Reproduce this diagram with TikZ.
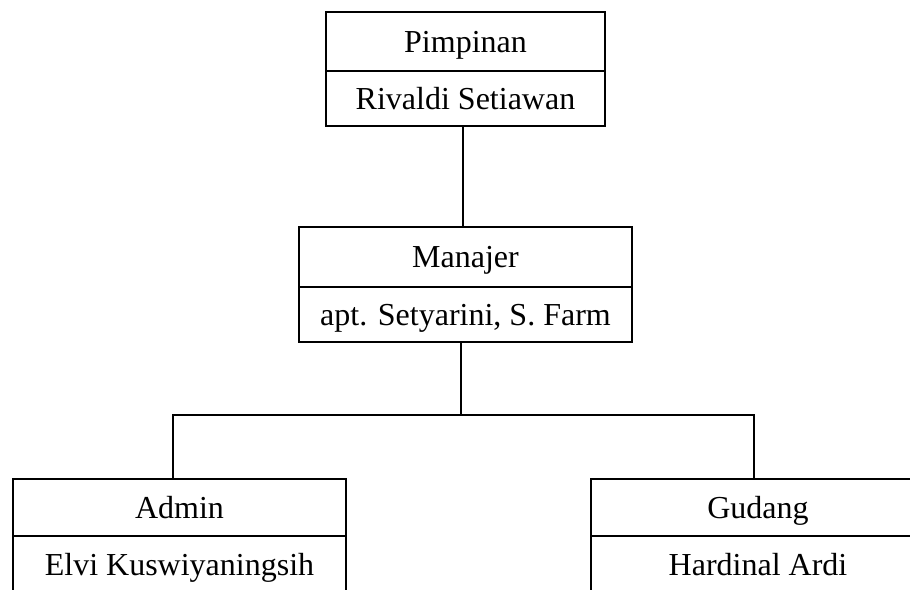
\documentclass[tikz,border=0pt]{standalone}
\usepackage{fontspec}
\setmainfont{Liberation Serif}
\usepackage{tikz}

\begin{document}
\begin{tikzpicture}[x=1pt,y=-1pt,line width=2pt,
  every node/.style={font=\fontsize{32}{38}\selectfont,text height=21pt,text depth=0pt}]
\useasboundingbox (0,0) rectangle (910,589);
\clip (0,0) rectangle (910,589);
% top
\path (465.5,41.5) node (pimpinan) [shape=rectangle,minimum width=279pt,minimum height=59pt,inner sep=0pt,draw] {Pimpinan};
\path (465.5,98.5) node (pimpinanname) [shape=rectangle,minimum width=279pt,minimum height=55pt,inner sep=0pt,draw] {Rivaldi Setiawan};
% middle
\path (465.5,257) node (manajer) [shape=rectangle,minimum width=333pt,minimum height=60pt,inner sep=0pt,draw] {Manajer};
\path (465.5,314.5) node (manajername) [shape=rectangle,minimum width=333pt,minimum height=55pt,inner sep=0pt,draw] {apt. Setyarini, S. Farm};
% bottom
\path (179.5,507.5) node (admin) [shape=rectangle,minimum width=333pt,minimum height=57pt,inner sep=0pt,draw] {Admin};
\path (179.5,564.5) node (adminname) [shape=rectangle,minimum width=333pt,minimum height=57pt,inner sep=0pt,draw] {Elvi Kuswiyaningsih};
\path (758,507.5) node (gudang) [shape=rectangle,minimum width=334pt,minimum height=57pt,inner sep=0pt,draw] {Gudang};
\path (758,564.5) node (gudangname) [shape=rectangle,minimum width=334pt,minimum height=57pt,inner sep=0pt,draw] {Hardinal Ardi};

\draw ([xshift=-3pt]pimpinanname.south) to ([xshift=-3pt]manajer.north);
\draw ([xshift=-5pt]manajername.south) -- +(0,72) coordinate (bus);
\draw ([xshift=-6.5pt]admin.north) |- (bus) -| ([xshift=-4pt]gudang.north);
\end{tikzpicture}
\end{document}
